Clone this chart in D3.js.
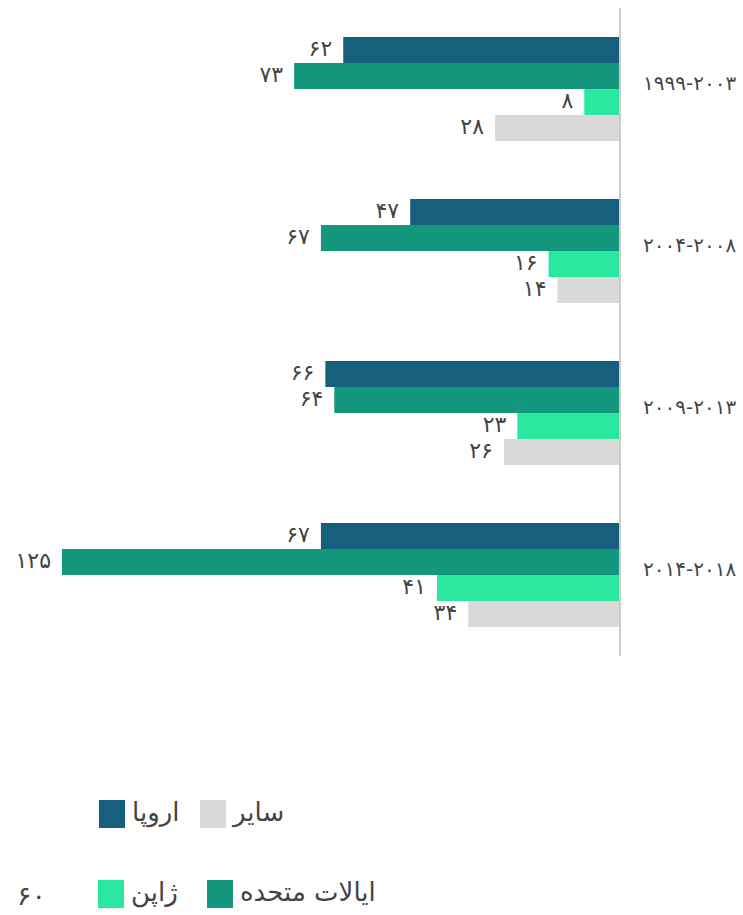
<!DOCTYPE html>
<html><head><meta charset="utf-8">
<script src="https://cdn.jsdelivr.net/npm/d3@7"></script>
<style>body{margin:0;background:#fff;} svg{display:block;} text{font-family:"DejaVu Sans",sans-serif;fill:#444;}</style>
</head><body>
<svg id="c" width="743" height="915"></svg>
<script>
const categories = ["1999-2003","2004-2008","2009-2013","2014-2018"];
const seriesNames = ["اروپا","ایالات متحده","ژاپن","سایر"];
const europe = [62,47,66,67];
const usa = [73,67,64,125];
const japan = [8,16,23,41];
const other = [28,14,26,34];
const colors = ["#17607d","#13987e","#2be8a0","#d9d9d9"];
const values = [europe, usa, japan, other];

const fa = s => String(s).replace(/\d/g, d => "۰۱۲۳۴۵۶۷۸۹"[d]);
const svg = d3.select("#c");
const x = d3.scaleLinear().domain([0,125]).range([620,62]);
const y0 = d3.scaleBand().domain(categories).range([8,656]).paddingInner(0.358).paddingOuter(0.179);
const y1 = d3.scaleBand().domain(d3.range(4)).range([0,y0.bandwidth()]);

const g = svg.append("g");
categories.forEach((c,i)=>{
  const gg = g.append("g").attr("transform",`translate(0,${y0(c)})`);
  values.forEach((arr,s)=>{
    const v = arr[i];
    gg.append("rect").attr("x",x(v)).attr("y",y1(s)).attr("width",x(0)-x(v)).attr("height",y1.bandwidth()).attr("fill",colors[s]);
    gg.append("text").attr("x",x(v)-11).attr("y",y1(s)+y1.bandwidth()/2-2).attr("dy","0.35em")
      .attr("text-anchor","end").attr("font-size",22).text(fa(v));
  });
  svg.append("text").attr("x",643).attr("y",y0(c)+y0.bandwidth()/2-6).attr("dy","0.35em")
    .attr("font-size",20).text(fa(c));
});
svg.append("line").attr("x1",620).attr("x2",620).attr("y1",8).attr("y2",656).attr("stroke","#cccccc").attr("stroke-width",2);

// legend
const leg = [
  {s:0, x:99, y:800},
  {s:3, x:200, y:800},
  {s:2, x:98, y:880},
  {s:1, x:207, y:880}
];
leg.forEach(l=>{
  svg.append("rect").attr("x",l.x).attr("y",l.y).attr("width",26).attr("height",28).attr("fill",colors[l.s]);
  svg.append("text").attr("x",l.x+33).attr("y",l.y+12).attr("dy","0.35em").attr("font-size",26)
    .attr("text-anchor","start").text(seriesNames[l.s]);
});
svg.append("text").attr("x",17).attr("y",896).attr("dy","0.35em").attr("font-size",27).text(fa(60));
</script>
</body></html>
